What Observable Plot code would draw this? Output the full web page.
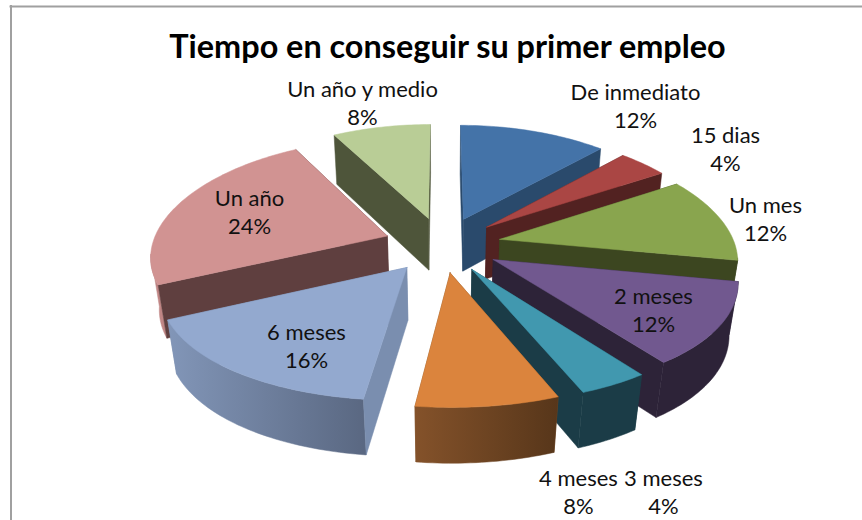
<!DOCTYPE html>
<html><head><meta charset="utf-8">
<script src="https://cdn.jsdelivr.net/npm/d3@7"></script>
<script src="https://cdn.jsdelivr.net/npm/@observablehq/plot@0.6"></script>
<style>html,body{margin:0;padding:0;background:#fff}svg{display:block}</style>
</head><body><div id="chart"></div>
<script>
const categories = ["De inmediato","15 dias","Un mes","2 meses","3 meses","4 meses","6 meses","Un año","Un año y medio"];
const percents = [12,4,12,12,4,8,16,24,8];
const topColors = ["#4473a8","#aa4644","#89a54e","#71588f","#4198af","#db843d","#93a9cf","#d19392","#b9cd96"];
const cutColors = ["#2a4a6c","#522221","#3c4620","#2d2338","#1b3c47","#7d4e26","#7a8eaf","#5f3f3f","#4e553a"];
const wallLeft  = ["#2a4a6c","#522221","#3c4620","#2d2338","#1b3c47","#84522a","#8296b8","#b98080","#4e553a"];
const wallRight = ["#2a4a6c","#522221","#3c4620","#2d2338","#1b3c47","#57361a","#5a6882","#c08685","#4e553a"];
const drawOrder = [8,0,7,1,2,3,4,6,5];
const labelX = [635,725,765,653,663,578,306,249,362];
const labelY = [105,147.5,218,309,491,491,345,211,102];

// view of the pie: a tilted, perspective disc
const view = {cx:442, cy:244, R:235, A:111, kx:.16, k:.12, depth:.03, H:54, explode:.25};
const project = (u, v, low) => {
  const d = low ? view.depth : 0;
  return [view.cx + view.R * u / (1 + view.kx * v + d),
          view.cy + (low ? view.H - view.A * v : -view.A * v) / (1 + view.k * v + d)];
};
const cum = d3.cumsum(percents);
const polys = [];
const gradients = [];
let pid = 0;
const add = (pts, fill) => { pid++; for (const p of [...pts, pts[0]]) polys.push({id: pid, x: p[0], y: p[1], fill}); };
const camV = -1 / view.k;

for (const i of drawOrder) {
  const a0 = (i ? cum[i-1] : 0) * 3.6 * Math.PI/180, a1 = cum[i] * 3.6 * Math.PI/180, m = (a0+a1)/2;
  const ou = view.explode * Math.sin(m), ov = view.explode * Math.cos(m);
  const at = (t, low) => project(ou + Math.sin(t), ov + Math.cos(t), low);
  const apex = low => project(ou, ov, low);
  const n = Math.max(4, Math.ceil((a1-a0) / 0.02));
  const ts = d3.range(n+1).map(j => a0 + (a1-a0)*j/n);
  const faces = [a0, a1].map(a => {
    const dx = Math.sin(a), dy = Math.cos(a);
    const toCam = dx * (camV - ov) - dy * (0 - ou);
    const toMid = dx * Math.cos(m) - dy * Math.sin(m);
    return {poly: [apex(false), at(a,false), at(a,true), apex(true)], front: toCam * toMid < 0};
  });
  for (const f of faces) if (!f.front) add(f.poly, cutColors[i]);
  // outer wall with a horizontal gradient
  const vis = ts.filter(t => {
    const pu = ou + Math.sin(t), pv = ov + Math.cos(t);
    return Math.sin(t) * (0 - pu) + Math.cos(t) * (camV - pv) > 0;
  });
  if (vis.length > 1) {
    const top = vis.map(t => at(t,false)), bot = vis.map(t => at(t,true)).reverse();
    const [x1, x2] = d3.extent(top, p => p[0]);
    const id = "wall" + i;
    gradients.push({id, x1, x2, c1: wallLeft[i], c2: wallRight[i]});
    add([...top, ...bot], `url(#${id})`);
  }
  for (const f of faces) if (f.front) add(f.poly, cutColors[i]);
  add([apex(false), ...ts.map(t => at(t,false))], topColors[i]);
}

const labels = categories.map((c,i) => ({text: `${c}\n${percents[i]}%`, x: labelX[i], y: labelY[i]}));

const plot = Plot.plot({
  width: 862, height: 520, margin: 0,
  x: {domain: [0,862], range: [0,862], axis: null},
  y: {domain: [0,520], range: [0,520], axis: null},
  color: {type: "identity"},
  marks: [
    Plot.ruleX([10.5], {y1: 5, y2: 520, stroke: "#a0a0a0", strokeWidth: 2}),
    Plot.ruleY([6], {x1: 9.5, x2: 862, stroke: "#a0a0a0", strokeWidth: 2}),
    Plot.line(polys, {x: "x", y: "y", z: "id", fill: "fill", stroke: "fill", strokeWidth: .5, curve: "linear"}),
    Plot.text(labels, {x: "x", y: "y", text: "text", fontSize: 22, lineHeight: 1.27, fontFamily: "Lato", fill: "#111", textAnchor: "middle"}),
    Plot.text(["Tiempo en conseguir su primer empleo"], {x: 447, y: 47, fontSize: 32.4, fontWeight: 700, fontFamily: "Lato", fill: "#000", textAnchor: "middle"})
  ]
});
const defs = d3.select(plot).append("defs");
for (const g of gradients) {
  const lg = defs.append("linearGradient").attr("id", g.id).attr("gradientUnits", "userSpaceOnUse")
    .attr("x1", g.x1).attr("x2", g.x2).attr("y1", 0).attr("y2", 0);
  lg.append("stop").attr("offset", 0).attr("stop-color", g.c1);
  lg.append("stop").attr("offset", 1).attr("stop-color", g.c2);
}
document.getElementById("chart").append(plot);
</script></body></html>
